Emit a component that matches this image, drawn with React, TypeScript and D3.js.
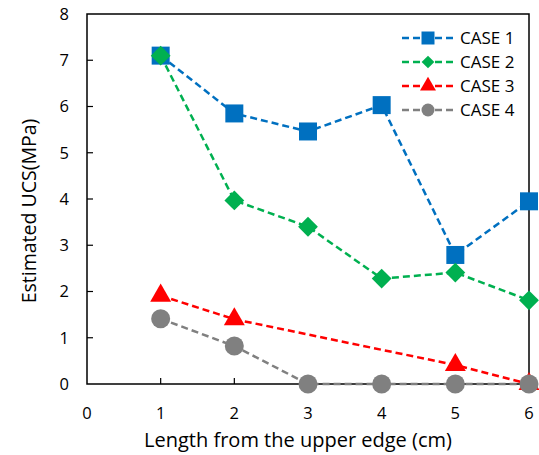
import React from 'react';
import * as d3 from 'd3';

const xTicks = [0, 1, 2, 3, 4, 5, 6];
const yTicks = [0, 1, 2, 3, 4, 5, 6, 7, 8];

const case1X = [1, 2, 3, 4, 5, 6];
const case1Y = [7.1, 5.85, 5.46, 6.03, 2.79, 3.95];
const case2X = [1, 2, 3, 4, 5, 6];
const case2Y = [7.1, 3.97, 3.4, 2.28, 2.41, 1.81];
const case3X = [1, 2, 5, 6];
const case3Y = [1.91, 1.4, 0.41, 0];
const case4X = [1, 2, 3, 4, 5, 6];
const case4Y = [1.41, 0.82, 0, 0, 0, 0];

type Shape = 'square' | 'diamond' | 'triangle' | 'circle';

interface Series {
  name: string;
  xs: number[];
  ys: number[];
  color: string;
  shape: Shape;
}

const series: Series[] = [
  { name: 'CASE 1', xs: case1X, ys: case1Y, color: '#0070C0', shape: 'square' },
  { name: 'CASE 2', xs: case2X, ys: case2Y, color: '#00B050', shape: 'diamond' },
  { name: 'CASE 3', xs: case3X, ys: case3Y, color: '#FF0000', shape: 'triangle' },
  { name: 'CASE 4', xs: case4X, ys: case4Y, color: '#808080', shape: 'circle' }
];

const W = 539;
const H = 455;
const margin = { left: 87, right: 10, top: 14, bottom: 71 };
const font = "'Open Sans', 'DejaVu Sans', sans-serif";

// diamond = square turned 45 degrees (d3's own diamond is too tall)
const symbolType: Record<Shape, d3.SymbolType> = {
  square: d3.symbolSquare,
  diamond: d3.symbolSquare,
  triangle: d3.symbolTriangle,
  circle: d3.symbolCircle
};

const markerArea: Record<Shape, number> = {
  square: 18 * 18,
  diamond: 14 * 14,
  triangle: 190,
  circle: Math.PI * 9.5 * 9.5
};

const legendArea: Record<Shape, number> = {
  square: 13 * 13,
  diamond: 9 * 9,
  triangle: 110,
  circle: Math.PI * 6.5 * 6.5
};

export default function App() {
  const x = d3.scaleLinear().domain([0, 6]).range([margin.left, W - margin.right]);
  const y = d3.scaleLinear().domain([0, 8]).range([H - margin.bottom, margin.top]);

  const line = d3.line<[number, number]>()
    .x(d => x(d[0]))
    .y(d => y(d[1]));

  const sym = (shape: Shape, area: number) => d3.symbol(symbolType[shape], area)() || '';
  const rot = (shape: Shape) => (shape === 'diamond' ? ' rotate(45)' : '');

  return (
    <div style={{ position: 'absolute', left: 0, top: 0 }}>
      <svg width={W} height={H} style={{ display: 'block', background: '#fff' }}>
        {/* frame */}
        <rect
          x={x(0)}
          y={y(8)}
          width={x(6) - x(0)}
          height={y(0) - y(8)}
          fill="none"
          stroke="#000"
          strokeWidth={1.5}
        />
        {/* y ticks */}
        {yTicks.map(t => (
          <g key={'y' + t}>
            {t > 0 && t < 8 && (
              <line x1={x(0)} x2={x(0) + 6} y1={y(t)} y2={y(t)} stroke="#000" strokeWidth={1.2} />
            )}
            <text x={x(0) - 18} y={y(t)} dy="0.36em" textAnchor="end" fontFamily={font} fontSize={16.5} fill="#000">
              {t}
            </text>
          </g>
        ))}
        {/* x ticks */}
        {xTicks.map(t => (
          <g key={'x' + t}>
            {t > 0 && t < 6 && (
              <line x1={x(t)} x2={x(t)} y1={y(0)} y2={y(0) - 6} stroke="#000" strokeWidth={1.2} />
            )}
            <text x={x(t)} y={y(0) + 35} textAnchor="middle" fontFamily={font} fontSize={16.5} fill="#000">
              {t}
            </text>
          </g>
        ))}
        <text x={298} y={447} textAnchor="middle" fontFamily={font} fontSize={20} fill="#000">
          Length from the upper edge (cm)
        </text>
        <text
          transform={`translate(36, 211) rotate(-90)`}
          textAnchor="middle"
          fontFamily={font}
          fontSize={19.5}
          fill="#000"
        >
          Estimated UCS(MPa)
        </text>

        {/* series */}
        {series.map(s => {
          const pts = s.xs.map((v, i) => [v, s.ys[i]] as [number, number]);
          return (
            <g key={s.name}>
              <path d={line(pts) || ''} fill="none" stroke={s.color} strokeWidth={2.5} strokeDasharray="7,4" />
              {pts.map((p, i) => (
                <path
                  key={i}
                  d={sym(s.shape, markerArea[s.shape])}
                  transform={`translate(${x(p[0])},${y(p[1])})${rot(s.shape)}`}
                  fill={s.color}
                />
              ))}
            </g>
          );
        })}

        {/* legend */}
        {series.map((s, i) => {
          const ly = 38 + i * 24;
          return (
            <g key={'lg' + s.name}>
              <line x1={402} x2={455} y1={ly} y2={ly} stroke={s.color} strokeWidth={2.5} strokeDasharray="7,4" />
              <path
                d={sym(s.shape, legendArea[s.shape])}
                transform={`translate(428,${ly})${rot(s.shape)}`}
                fill={s.color}
              />
              <text x={460} y={ly} dy="0.36em" fontFamily={font} fontSize={17} fill="#000">
                {s.name}
              </text>
            </g>
          );
        })}
      </svg>
    </div>
  );
}
